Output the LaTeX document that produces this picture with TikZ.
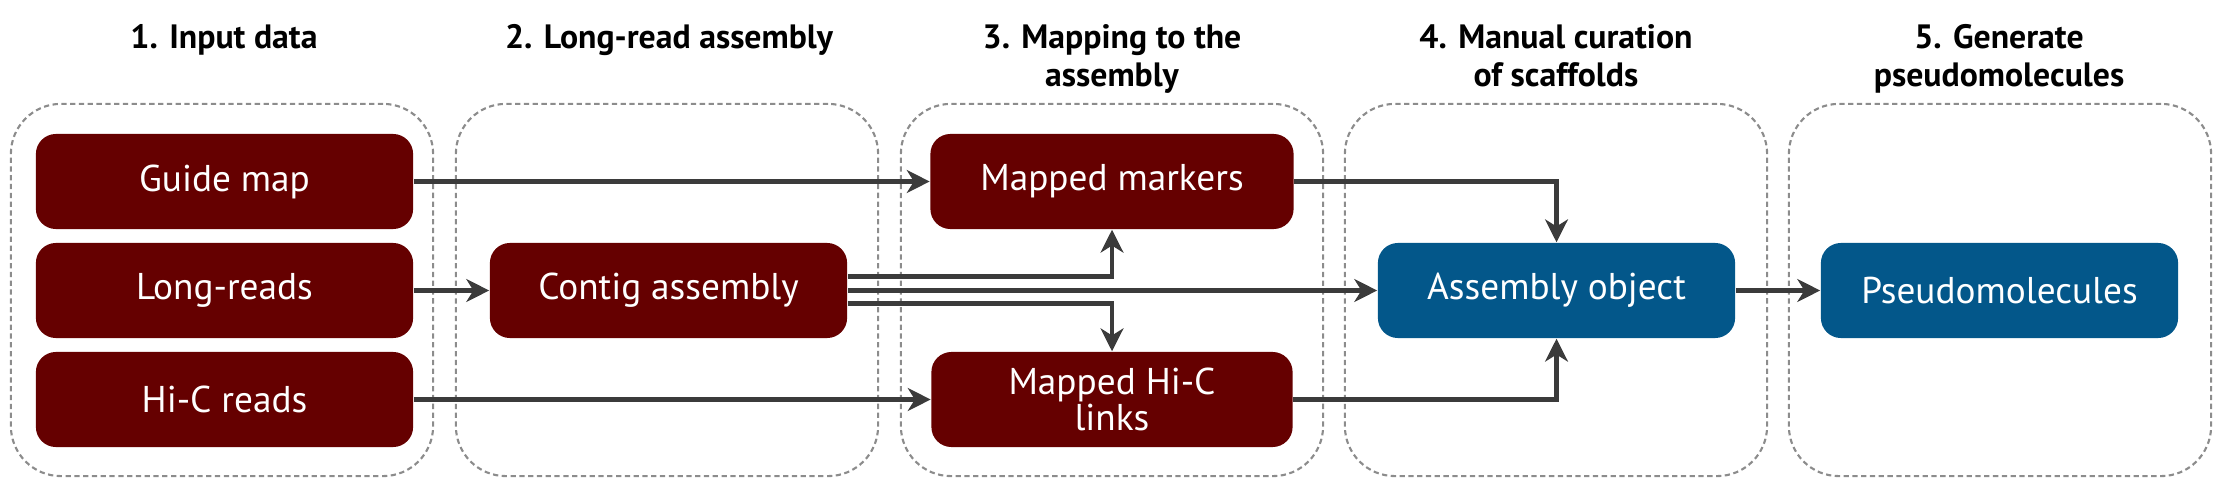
\documentclass[tikz,border=0pt]{standalone}
\usepackage{fontspec}
\setmainfont{PT Sans}
\usetikzlibrary{arrows.meta,calc}

\definecolor{boxred}{HTML}{650000}
\definecolor{boxblue}{HTML}{03578A}
\definecolor{linkgray}{HTML}{3B3B3B}
\definecolor{groupgray}{HTML}{8C8C8C}

\begin{document}
\begin{tikzpicture}[x=0.01cm, y=-0.01cm,
  group/.style={draw=groupgray, line width=0.6pt, dash pattern=on 1.5pt off 1pt,
    rounded corners=0.5cm, minimum width=4.22cm, minimum height=3.72cm, inner sep=0pt},
  title/.style={anchor=north, inner sep=0pt, align=center,
    font=\fontsize{9.6}{10.8}\selectfont\bfseries},
  databox/.style={fill=boxred, text=white, rounded corners=0.2cm, minimum height=0.95cm,
    inner sep=0pt, align=center, font=\fontsize{10.6}{10}\selectfont},
  resultbox/.style={databox, fill=boxblue, minimum width=3.57cm},
  link/.style={draw=linkgray, line width=1.3pt, -{Stealth[length=6.5pt,width=6.5pt,inset=2pt]}}]
  \useasboundingbox (0,0) rectangle (2220,500);

  \node[group] (g1) at (222,290) {};
  \node[group] (g2) at (667,290) {};
  \node[group] (g3) at (1112,290) {};
  \node[group] (g4) at (1556,290) {};
  \node[group] (g5) at (2000,290) {};

  \node[title] (t1) at (224,24) {1. Input data};
  \node[title] (t2) at (669,24) {2. Long-read assembly};
  \node[title] (t3) at (1112,24) {3. Mapping to the\\assembly};
  \node[title] (t4) at (1556,24) {4. Manual curation\\of scaffolds};
  \node[title] (t5) at (1999,24) {5. Generate\\pseudomolecules};

  \node[databox, minimum width=3.77cm] (gmap) at (224.5,181.5) {Guide map};
  \node[databox, minimum width=3.77cm] (lreads) at (224.5,290.5) {Long-reads};
  \node[databox, minimum width=3.77cm] (hic) at (224.5,399.5) {Hi-C reads};
  \node[databox, minimum width=3.57cm] (contig) at (668.5,290.5) {Contig assembly};
  \node[databox, minimum width=3.63cm] (mmark) at (1112,181.5) {Mapped markers};
  \node[databox, minimum width=3.61cm] (mhic) at (1112,399.5) {Mapped Hi-C\\links};
  \node[resultbox] (asm) at (1556.5,290.5) {Assembly object};
  \node[resultbox] (pseudo) at (1999.5,290.5) {Pseudomolecules};

  \draw[link] (gmap) -- (mmark);
  \draw[link] (lreads) -- (contig);
  \draw[link] (hic) -- (mhic);
  \draw[link] ([yshift=0.14cm]contig.east) -| (mmark.south);
  \draw[link] (contig) -- (asm);
  \draw[link] ([yshift=-0.13cm]contig.east) -| (mhic.north);
  \draw[link] (mmark.east) -| (asm.north);
  \draw[link] (mhic.east) -| (asm.south);
  \draw[link] (asm) -- (pseudo);
\end{tikzpicture}
\end{document}
